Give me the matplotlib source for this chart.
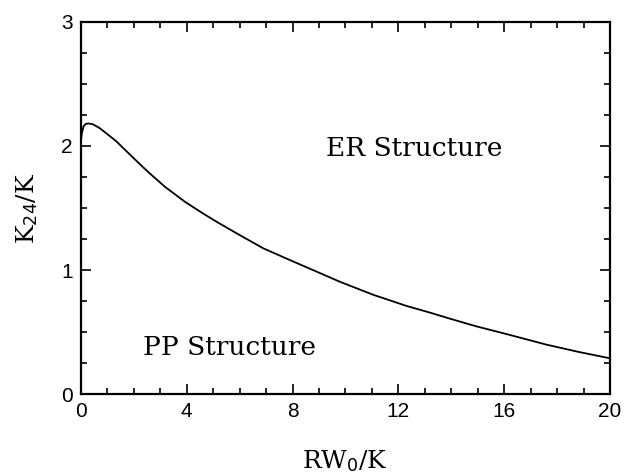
import matplotlib
matplotlib.use('Agg')
import matplotlib.pyplot as plt
from matplotlib.ticker import MultipleLocator

plt.rcParams['mathtext.fontset'] = 'dejavuserif'

# curve
rw0 = [0.0, 0.04, 0.1, 0.18, 0.28, 0.45, 0.7, 1.03, 1.35, 1.66, 2.0, 2.29, 2.7, 3.18,
       3.93, 4.62, 5.2, 5.89, 6.89, 7.9, 8.66, 9.79, 11.05, 12.31, 13.2, 14.1,
       14.96, 16.22, 17.6, 18.8, 20.0]
k24 = [2.05, 2.11, 2.16, 2.178, 2.182, 2.175, 2.145, 2.09, 2.035, 1.97, 1.90, 1.84, 1.76, 1.67,
       1.55, 1.455, 1.38, 1.295, 1.175, 1.08, 1.01, 0.905, 0.80, 0.71, 0.656, 0.598,
       0.545, 0.476, 0.398, 0.34, 0.288]

# region labels
region_text = ['ER Structure', 'PP Structure']
region_x = [12.6, 5.6]
region_y = [1.98, 0.375]

fig = plt.figure(figsize=(6.26, 4.73), dpi=100)
ax = fig.add_axes([0.1294, 0.167, 0.845, 0.7865])

ax.plot(rw0, k24, color='black', lw=1.3)

for t, x, y in zip(region_text, region_x, region_y):
    ax.text(x, y, t, ha='center', va='center', fontsize=19, family='DejaVu Serif')

ax.set_xlim(0, 20)
ax.set_ylim(0, 3)
ax.xaxis.set_major_locator(MultipleLocator(4))
ax.xaxis.set_minor_locator(MultipleLocator(1))
ax.yaxis.set_major_locator(MultipleLocator(1))
ax.yaxis.set_minor_locator(MultipleLocator(0.25))
ax.tick_params(which='both', direction='in', top=True, right=True, width=1.2,
               labelsize=15, pad=6)
ax.tick_params(which='major', length=7)
ax.tick_params(which='minor', length=4)
for lab in ax.get_xticklabels() + ax.get_yticklabels():
    lab.set_family('Liberation Sans')
for s in ax.spines.values():
    s.set_linewidth(1.6)

ax.set_xlabel(r'RW$_\mathsf{0}$/K', fontsize=18, family='DejaVu Serif', labelpad=19)
ax.set_ylabel(r'K$_\mathsf{24}$/K', fontsize=18, family='DejaVu Serif', labelpad=15)

fig.savefig('out.png', dpi=100)
